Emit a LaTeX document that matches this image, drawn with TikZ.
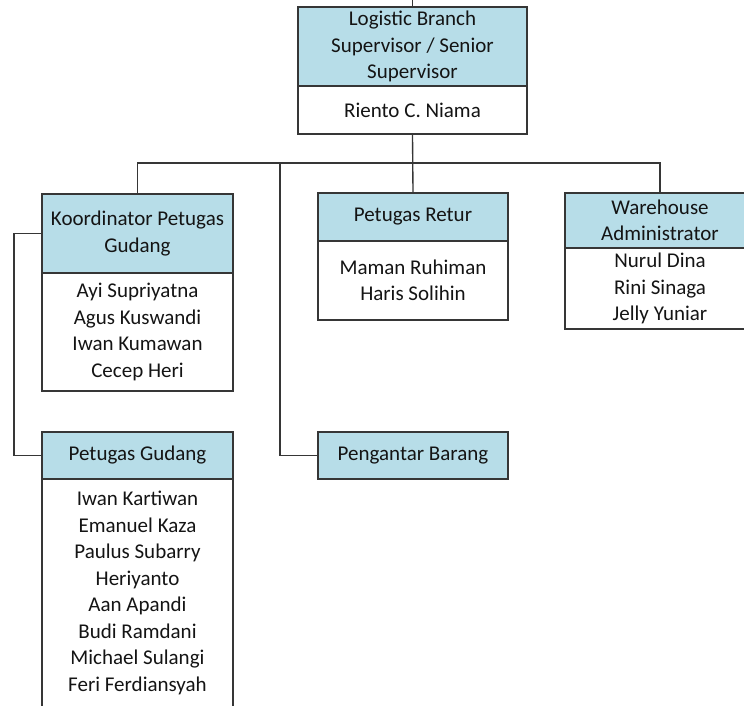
\documentclass[tikz,border=0pt]{standalone}
\usepackage{fontspec}
\setmainfont{Carlito}
\definecolor{hdr}{HTML}{B7DDE8}
\definecolor{ln}{HTML}{363636}
\definecolor{txt}{HTML}{141414}

\begin{document}
\begin{tikzpicture}[x=1pt,y=-1pt,
  box/.style={draw=ln, line width=1.35pt, rectangle, inner sep=0pt, outer sep=0pt,
    align=center, text=txt, font=\fontsize{21}{26.5}\selectfont, anchor=north west},
  head/.style={box, fill=hdr},
  body/.style={box, fill=white},
  link/.style={draw=ln, line width=1.35pt}]

\path[use as bounding box, clip] (0,0) rectangle (744,706);

% Branch supervisor
\node[head, minimum width=229pt, minimum height=79pt] (suph) at (298,7)
  {Logistic Branch\\Supervisor / Senior\\Supervisor};
\node[body, minimum width=229pt, minimum height=48pt] (supb) at (298,86)
  {Riento C. Niama};

% Koordinator petugas gudang
\node[head, minimum width=191pt, minimum height=79pt] (kh) at (42,194)
  {Koordinator Petugas\\Gudang};
\node[body, minimum width=191pt, minimum height=118pt] (kb) at (42,273)
  {Ayi Supriyatna\\Agus Kuswandi\\Iwan Kumawan\\Cecep Heri};

% Petugas retur
\node[head, minimum width=190pt, minimum height=48pt] (rh) at (318,193)
  {Petugas Retur};
\node[body, minimum width=190pt, minimum height=79pt] (rb) at (318,241)
  {Maman Ruhiman\\Haris Solihin};

% Warehouse administrator
\node[head, minimum width=190pt, minimum height=55pt] (wh) at (565,193)
  {Warehouse\\Administrator};
\node[body, minimum width=190pt, minimum height=81pt] (wb) at (565,248)
  {Nurul Dina\\Rini Sinaga\\Jelly Yuniar};

% Petugas gudang
\node[head, minimum width=191pt, minimum height=47pt] (gh) at (42,432)
  {Petugas Gudang};
\node[body, minimum width=191pt, minimum height=228pt] (gb) at (42,479)
  {Iwan Kartiwan\\Emanuel Kaza\\Paulus Subarry\\Heriyanto\\Aan Apandi\\Budi Ramdani\\Michael Sulangi\\Feri Ferdiansyah};

% Pengantar barang
\node[head, minimum width=190pt, minimum height=47pt] (ph) at (318,432)
  {Pengantar Barang};

% Connectors
\coordinate (up) at (412.5,0);
\coordinate (bus) at (412.5,163);
\coordinate (tap) at (280,163);
\draw[link] (up) -- (suph.north);
\draw[link] (supb.south) -- (rh.north);
\draw[link] (kh.north) |- (bus) -| (wh.north);
\draw[link] (tap) |- (ph.west);
\draw[link] (kh.west) -- ++(-28,0) |- (gh.west);
\end{tikzpicture}
\end{document}
